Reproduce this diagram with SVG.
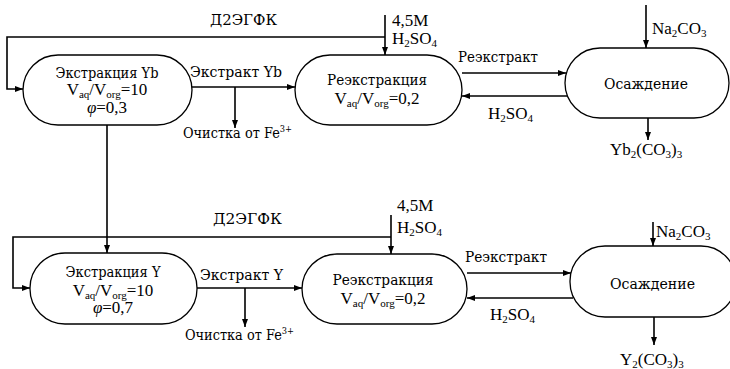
<svg xmlns="http://www.w3.org/2000/svg" width="730" height="369" viewBox="0 0 730 369">
<defs>
<marker id="ah" viewBox="0 0 8 6" refX="8" refY="3" markerWidth="8" markerHeight="6" markerUnits="userSpaceOnUse" orient="auto">
<path d="M0,0 L8,3 L0,6 Z" fill="#000"/>
</marker>
<style>
text{fill:#000}
.cy{font-family:'DejaVu Serif','Liberation Serif',serif;font-size:14px}
.la{font-family:'Liberation Serif','DejaVu Serif',serif;font-size:17px}
.c{text-anchor:middle}
.s{font-size:11px}
.sc{font-size:9px}
.n{fill:#fff;stroke:#000;stroke-width:1.3}
.l{fill:none;stroke:#000;stroke-width:1.6}
.a{marker-end:url(#ah)}
</style>
</defs>
<rect width="730" height="369" fill="#fff"/>
<g id="connectors">
<polyline class="l a" points="385,37 7,37 7,89 23,89"/>
<line class="l a" x1="192" y1="87" x2="295" y2="87"/>
<line class="l a" x1="235" y1="87" x2="235" y2="128"/>
<line class="l a" x1="107" y1="125" x2="107" y2="253"/>
<line class="l a" x1="385" y1="15" x2="385" y2="55"/>
<line class="l a" x1="462" y1="73" x2="566" y2="73"/>
<line class="l a" x1="567" y1="96" x2="462" y2="96"/>
<line class="l a" x1="646" y1="5" x2="646" y2="48"/>
<line class="l a" x1="648" y1="118" x2="648" y2="140"/>
<polyline class="l a" points="391,237 13,237 13,288 30,288"/>
<line class="l a" x1="197" y1="288" x2="302" y2="288"/>
<line class="l a" x1="245" y1="288" x2="245" y2="327"/>
<line class="l a" x1="391" y1="215" x2="391" y2="254"/>
<line class="l a" x1="467" y1="273" x2="571" y2="273"/>
<line class="l a" x1="573" y1="298" x2="467" y2="298"/>
<line class="l a" x1="653" y1="222" x2="653" y2="246"/>
<line class="l a" x1="654" y1="317" x2="654" y2="345"/>
</g>
<g id="labels">
<text class="cy c" x="243.5" y="25" textLength="67" lengthAdjust="spacingAndGlyphs">Д2ЭГФК</text>
<text class="la" x="392" y="26">4,5M</text>
<text class="la" x="392" y="44">H<tspan class="s" dy="3">2</tspan><tspan dy="-3">SO</tspan><tspan class="s" dy="3">4</tspan></text>
<text class="cy" x="190" y="77" textLength="92" lengthAdjust="spacingAndGlyphs">Экстракт Yb</text>
<text class="cy" x="183" y="138" textLength="109" lengthAdjust="spacingAndGlyphs">Очистка от Fe<tspan class="sc" dy="-6">3+</tspan></text>
<text class="cy" x="458" y="62" textLength="80" lengthAdjust="spacingAndGlyphs">Реэкстракт</text>
<text class="la" x="488" y="119">H<tspan class="s" dy="3">2</tspan><tspan dy="-3">SO</tspan><tspan class="s" dy="3">4</tspan></text>
<text class="la" x="652" y="34">Na<tspan class="s" dy="3">2</tspan><tspan dy="-3">CO</tspan><tspan class="s" dy="3">3</tspan></text>
<text class="la" x="610" y="155">Yb<tspan class="s" dy="3">2</tspan><tspan dy="-3">(CO</tspan><tspan class="s" dy="3">3</tspan><tspan dy="-3">)</tspan><tspan class="s" dy="3">3</tspan></text>
<text class="cy c" x="247.5" y="224" textLength="69" lengthAdjust="spacingAndGlyphs">Д2ЭГФК</text>
<text class="la" x="397" y="211">4,5M</text>
<text class="la" x="397" y="233">H<tspan class="s" dy="3">2</tspan><tspan dy="-3">SO</tspan><tspan class="s" dy="3">4</tspan></text>
<text class="cy" x="200" y="280" textLength="83" lengthAdjust="spacingAndGlyphs">Экстракт Y</text>
<text class="cy" x="185" y="340" textLength="109" lengthAdjust="spacingAndGlyphs">Очистка от Fe<tspan class="sc" dy="-6">3+</tspan></text>
<text class="cy" x="465" y="262" textLength="82" lengthAdjust="spacingAndGlyphs">Реэкстракт</text>
<text class="la" x="490" y="320">H<tspan class="s" dy="3">2</tspan><tspan dy="-3">SO</tspan><tspan class="s" dy="3">4</tspan></text>
<text class="la" x="656" y="237">Na<tspan class="s" dy="3">2</tspan><tspan dy="-3">CO</tspan><tspan class="s" dy="3">3</tspan></text>
<text class="la" x="620" y="365">Y<tspan class="s" dy="3">2</tspan><tspan dy="-3">(CO</tspan><tspan class="s" dy="3">3</tspan><tspan dy="-3">)</tspan><tspan class="s" dy="3">3</tspan></text>
</g>
<g id="ext_yb">
<rect class="n" x="23" y="55" width="169" height="70" rx="35" ry="35"/>
<text class="cy c" x="107" y="78" textLength="103" lengthAdjust="spacingAndGlyphs">Экстракция Yb</text>
<text class="la c" x="107" y="95">V<tspan class="s" dy="3">aq</tspan><tspan dy="-3">/V</tspan><tspan class="s" dy="3">org</tspan><tspan dy="-3">=10</tspan></text>
<text class="la c" x="107" y="113"><tspan font-style="italic">φ</tspan>=0,3</text>
</g>
<g id="reext_yb">
<rect class="n" x="295" y="55" width="167" height="70" rx="35" ry="35"/>
<text class="cy c" x="377" y="85" textLength="100" lengthAdjust="spacingAndGlyphs">Реэкстракция</text>
<text class="la c" x="377" y="104">V<tspan class="s" dy="3">aq</tspan><tspan dy="-3">/V</tspan><tspan class="s" dy="3">org</tspan><tspan dy="-3">=0,2</tspan></text>
</g>
<g id="osa_yb">
<rect class="n" x="565" y="48" width="164" height="70" rx="35" ry="35"/>
<text class="cy c" x="646" y="89" textLength="84" lengthAdjust="spacingAndGlyphs">Осаждение</text>
</g>
<g id="ext_y">
<rect class="n" x="30" y="253" width="167" height="71" rx="35" ry="35"/>
<text class="cy c" x="113" y="277" textLength="95" lengthAdjust="spacingAndGlyphs">Экстракция Y</text>
<text class="la c" x="113" y="296">V<tspan class="s" dy="3">aq</tspan><tspan dy="-3">/V</tspan><tspan class="s" dy="3">org</tspan><tspan dy="-3">=10</tspan></text>
<text class="la c" x="113" y="313"><tspan font-style="italic">φ</tspan>=0,7</text>
</g>
<g id="reext_y">
<rect class="n" x="302" y="254" width="165" height="70" rx="35" ry="35"/>
<text class="cy c" x="383" y="285" textLength="101" lengthAdjust="spacingAndGlyphs">Реэкстракция</text>
<text class="la c" x="383" y="304">V<tspan class="s" dy="3">aq</tspan><tspan dy="-3">/V</tspan><tspan class="s" dy="3">org</tspan><tspan dy="-3">=0,2</tspan></text>
</g>
<g id="osa_y">
<rect class="n" x="570" y="246" width="166" height="71" rx="35" ry="35"/>
<text class="cy c" x="652.5" y="289" textLength="85" lengthAdjust="spacingAndGlyphs">Осаждение</text>
</g>
</svg>
